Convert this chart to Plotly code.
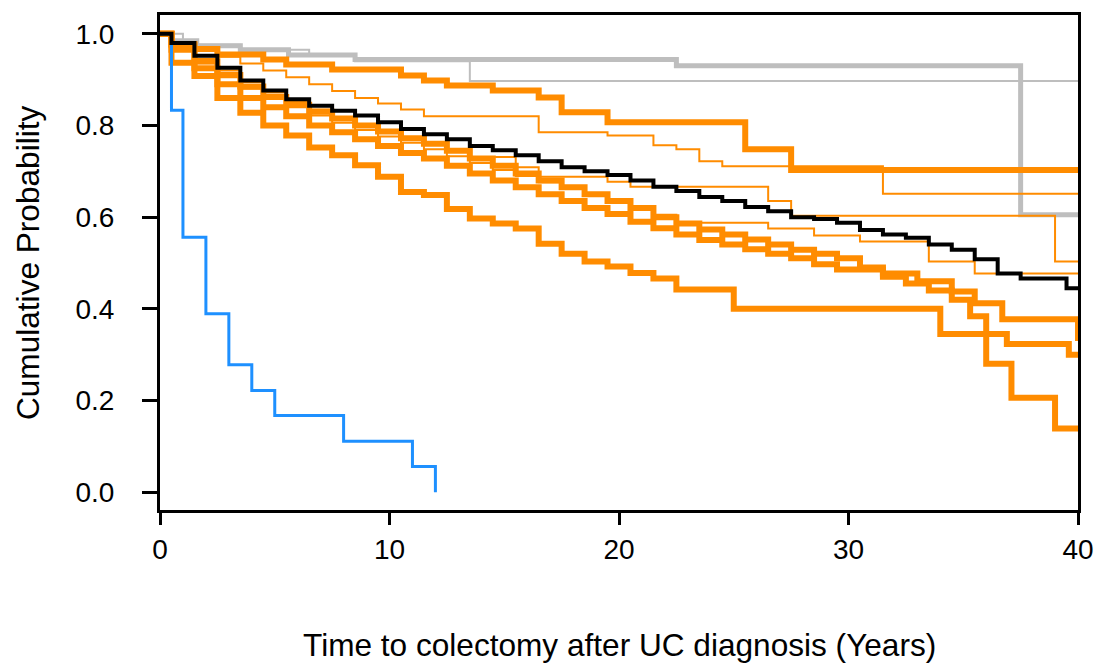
import plotly.graph_objects as go

# ---------------- data ----------------
blue_t = [0, 0.5, 1, 2, 3, 4, 5, 8, 11, 12]
blue_s = [1.0, 0.833, 0.556, 0.389, 0.278, 0.222, 0.167, 0.111, 0.056, 0.0]

black_t = [0, 0.5, 1.5, 2.5, 3.5, 4.5, 5.5, 6.5, 7.5, 8.5, 9.5, 10.5, 11.5, 12.5, 13.5,
           14.5, 15.5, 16.5, 17.5, 18.5, 19.5, 20.5, 21.5, 22.5, 23.5, 24.5, 25.5, 26.5,
           27.5, 28.5, 29.5, 30.5, 31.5, 32.5, 33.5, 34.5, 35.5, 36.5, 37.5, 39.5, 40]
black_s = [1.0, 0.98, 0.952, 0.926, 0.898, 0.876, 0.857, 0.843, 0.832, 0.822, 0.807, 0.792,
           0.781, 0.77, 0.755, 0.746, 0.735, 0.722, 0.709, 0.70, 0.692, 0.68, 0.666, 0.657,
           0.644, 0.635, 0.622, 0.613, 0.60, 0.596, 0.588, 0.572, 0.562, 0.555, 0.54, 0.529,
           0.508, 0.477, 0.466, 0.445, 0.445]

gray_thick_t = [0, 0.5, 1.6, 3.5, 5.6, 8.5, 22.5, 37.5, 40]
gray_thick_s = [1.0, 0.985, 0.974, 0.965, 0.954, 0.944, 0.93, 0.605, 0.605]

gray_thin_t = [0, 1.0, 3.5, 6.5, 8.5, 13.5, 40]
gray_thin_s = [1.0, 0.976, 0.965, 0.952, 0.94, 0.897, 0.897]

orange_t1_t = [0, 0.5, 1.5, 2.5, 4.5, 5.5, 7.5, 10.5, 11.5, 12.5, 14.5, 16.5, 17.5, 19.5,
               25.5, 27.5, 40]
orange_t1_s = [1.0, 0.978, 0.967, 0.955, 0.944, 0.933, 0.922, 0.909, 0.898, 0.887, 0.876,
               0.861, 0.829, 0.807, 0.748, 0.703, 0.703]

orange_a_t = [0, 0.5, 1.5, 2.5, 3.5, 4.5, 5.5, 6.5, 7.5, 8.5, 9.5, 10.5, 11.5, 16.5, 19.5,
              21.5, 22.5, 23.5, 24.5, 31.5, 40]
orange_a_s = [1.0, 0.98, 0.965, 0.95, 0.935, 0.92, 0.905, 0.89, 0.875, 0.86, 0.848, 0.835,
              0.82, 0.785, 0.778, 0.757, 0.748, 0.722, 0.711, 0.651, 0.651]

orange_b_t = [0, 0.5, 1.5, 2.5, 3.5, 4.5, 5.5, 6.5, 7.5, 8.5, 9.5, 10.5, 11.5, 12.5, 13.5,
              15.5, 16.5, 19.5, 20.5, 26.5, 27.5, 39.0, 40]
orange_b_s = [1.0, 0.975, 0.945, 0.92, 0.895, 0.872, 0.852, 0.835, 0.818, 0.803, 0.79,
              0.775, 0.76, 0.745, 0.731, 0.709, 0.688, 0.677, 0.666, 0.635, 0.603, 0.503, 0.503]

orange_c_t = [0, 0.5, 1.5, 2.5, 3.5, 4.5, 5.5, 6.5, 7.5, 8.5, 9.5, 10.5, 11.5, 12.5, 13.5,
              14.5, 15.5, 16.5, 17.5, 18.5, 19.5, 20.5, 21.5, 22.5, 26.5, 28.5, 30.5, 33.5,
              35.5, 40]
orange_c_s = [1.0, 0.97, 0.935, 0.905, 0.88, 0.86, 0.84, 0.822, 0.806, 0.79, 0.776, 0.762,
              0.748, 0.733, 0.718, 0.703, 0.69, 0.676, 0.662, 0.648, 0.635, 0.62, 0.605,
              0.588, 0.575, 0.56, 0.547, 0.503, 0.477, 0.477]

orange_t2_t = [0, 0.5, 1.5, 2.5, 3.5, 4.5, 5.5, 6.5, 7.5, 8.5, 9.5, 10.5, 11.5, 12.5, 13.5,
               14.5, 15.5, 16.5, 17.5, 18.5, 19.5, 20.5, 21.5, 22.5, 23.5, 24.5, 25.5, 26.5,
               27.5, 28.5, 29.5, 30.5, 31.5, 33.0, 34.5, 35.5, 36.7, 40, 40]
orange_t2_s = [1.0, 0.975, 0.94, 0.91, 0.885, 0.862, 0.845, 0.83, 0.815, 0.80, 0.787, 0.772,
               0.76, 0.745, 0.728, 0.712, 0.695, 0.68, 0.665, 0.65, 0.635, 0.62, 0.60, 0.586,
               0.573, 0.562, 0.551, 0.54, 0.529, 0.52, 0.51, 0.49, 0.477, 0.46, 0.438, 0.412,
               0.377, 0.377, 0.33]

orange_t3_t = [0, 0.5, 1.5, 2.5, 3.5, 4.5, 5.5, 6.5, 7.5, 8.5, 9.5, 10.5, 11.5, 12.5, 13.5,
               14.5, 15.5, 16.5, 17.5, 18.5, 19.5, 20.5, 21.5, 22.5, 23.5, 24.5, 25.5, 26.5,
               27.5, 28.5, 29.5, 31.5, 32.5, 33.5, 34.5, 35.3, 36.0, 36.9, 39.6, 40]
orange_t3_s = [1.0, 0.965, 0.925, 0.89, 0.86, 0.84, 0.82, 0.80, 0.785, 0.77, 0.755, 0.74,
               0.728, 0.712, 0.695, 0.68, 0.665, 0.65, 0.635, 0.62, 0.607, 0.59, 0.576, 0.562,
               0.55, 0.54, 0.53, 0.52, 0.51, 0.497, 0.486, 0.47, 0.455, 0.44, 0.42, 0.384,
               0.345, 0.323, 0.30, 0.30]

orange_t4_t = [0, 0.5, 1.5, 2.5, 3.5, 4.5, 5.5, 6.5, 7.5, 8.5, 9.5, 10.5, 11.5, 12.5, 13.5,
               14.5, 15.5, 16.5, 17.5, 18.5, 19.5, 20.5, 21.5, 22.5, 25.0, 34.0, 36.0, 37.1,
               39.0, 40]
orange_t4_s = [1.0, 0.937, 0.908, 0.86, 0.828, 0.80, 0.778, 0.752, 0.735, 0.713, 0.688,
               0.655, 0.648, 0.618, 0.597, 0.586, 0.575, 0.542, 0.52, 0.503, 0.492, 0.478,
               0.466, 0.442, 0.40, 0.345, 0.28, 0.206, 0.139, 0.139]

x_ticks = [0, 10, 20, 30, 40]
y_ticks = [0.0, 0.2, 0.4, 0.6, 0.8, 1.0]
y_tick_labels = ["0.0", "0.2", "0.4", "0.6", "0.8", "1.0"]
x_title = "Time to colectomy after UC diagnosis (Years)"
y_title = "Cumulative Probability"

# ---------------- styles ----------------
ORANGE = "#FF8C00"
GRAY = "#BEBEBE"
BLUE = "#1E90FF"
FONT = "Liberation Sans, Arial, sans-serif"

curves = [
    (gray_thin_t, gray_thin_s, GRAY, 2),
    (gray_thick_t, gray_thick_s, GRAY, 5),
    (orange_a_t, orange_a_s, ORANGE, 2),
    (orange_b_t, orange_b_s, ORANGE, 2),
    (orange_c_t, orange_c_s, ORANGE, 2),
    (orange_t1_t, orange_t1_s, ORANGE, 6),
    (orange_t2_t, orange_t2_s, ORANGE, 6),
    (orange_t3_t, orange_t3_s, ORANGE, 6),
    (orange_t4_t, orange_t4_s, ORANGE, 6),
    (blue_t, blue_s, BLUE, 3),
    (black_t, black_s, "black", 4),
]

fig = go.Figure()
for t, s, col, w in curves:
    fig.add_trace(go.Scatter(x=t, y=s, mode="lines",
                             line=dict(shape="hv", color=col, width=w),
                             hoverinfo="skip", showlegend=False))

axis_common = dict(showgrid=False, zeroline=False, showline=True, mirror=True,
                   linecolor="black", linewidth=3, ticks="outside", tickwidth=2.5,
                   tickcolor="black", tickfont=dict(family=FONT, size=28, color="black"))

fig.update_xaxes(range=[0, 40], tickvals=x_ticks, ticklen=12, ticklabelstandoff=0,
                 **axis_common)
fig.update_yaxes(range=[-0.039, 1.041], tickvals=y_ticks, ticktext=y_tick_labels,
                 ticklen=15, ticklabelstandoff=22, **axis_common)

fig.add_annotation(text=x_title, xref="paper", yref="paper", x=0.5, y=-0.273,
                   showarrow=False, xanchor="center", yanchor="middle",
                   font=dict(family=FONT, size=31.6, color="black"))
fig.add_annotation(text=y_title, xref="paper", yref="paper", x=-0.1443, y=0.5,
                   textangle=-90, showarrow=False, xanchor="center", yanchor="middle",
                   font=dict(family=FONT, size=31.6, color="black"))

fig.update_layout(width=1106, height=668, paper_bgcolor="white", plot_bgcolor="white",
                  margin=dict(l=160, r=24, t=12, b=158), showlegend=False)

fig.write_html("out.html")
